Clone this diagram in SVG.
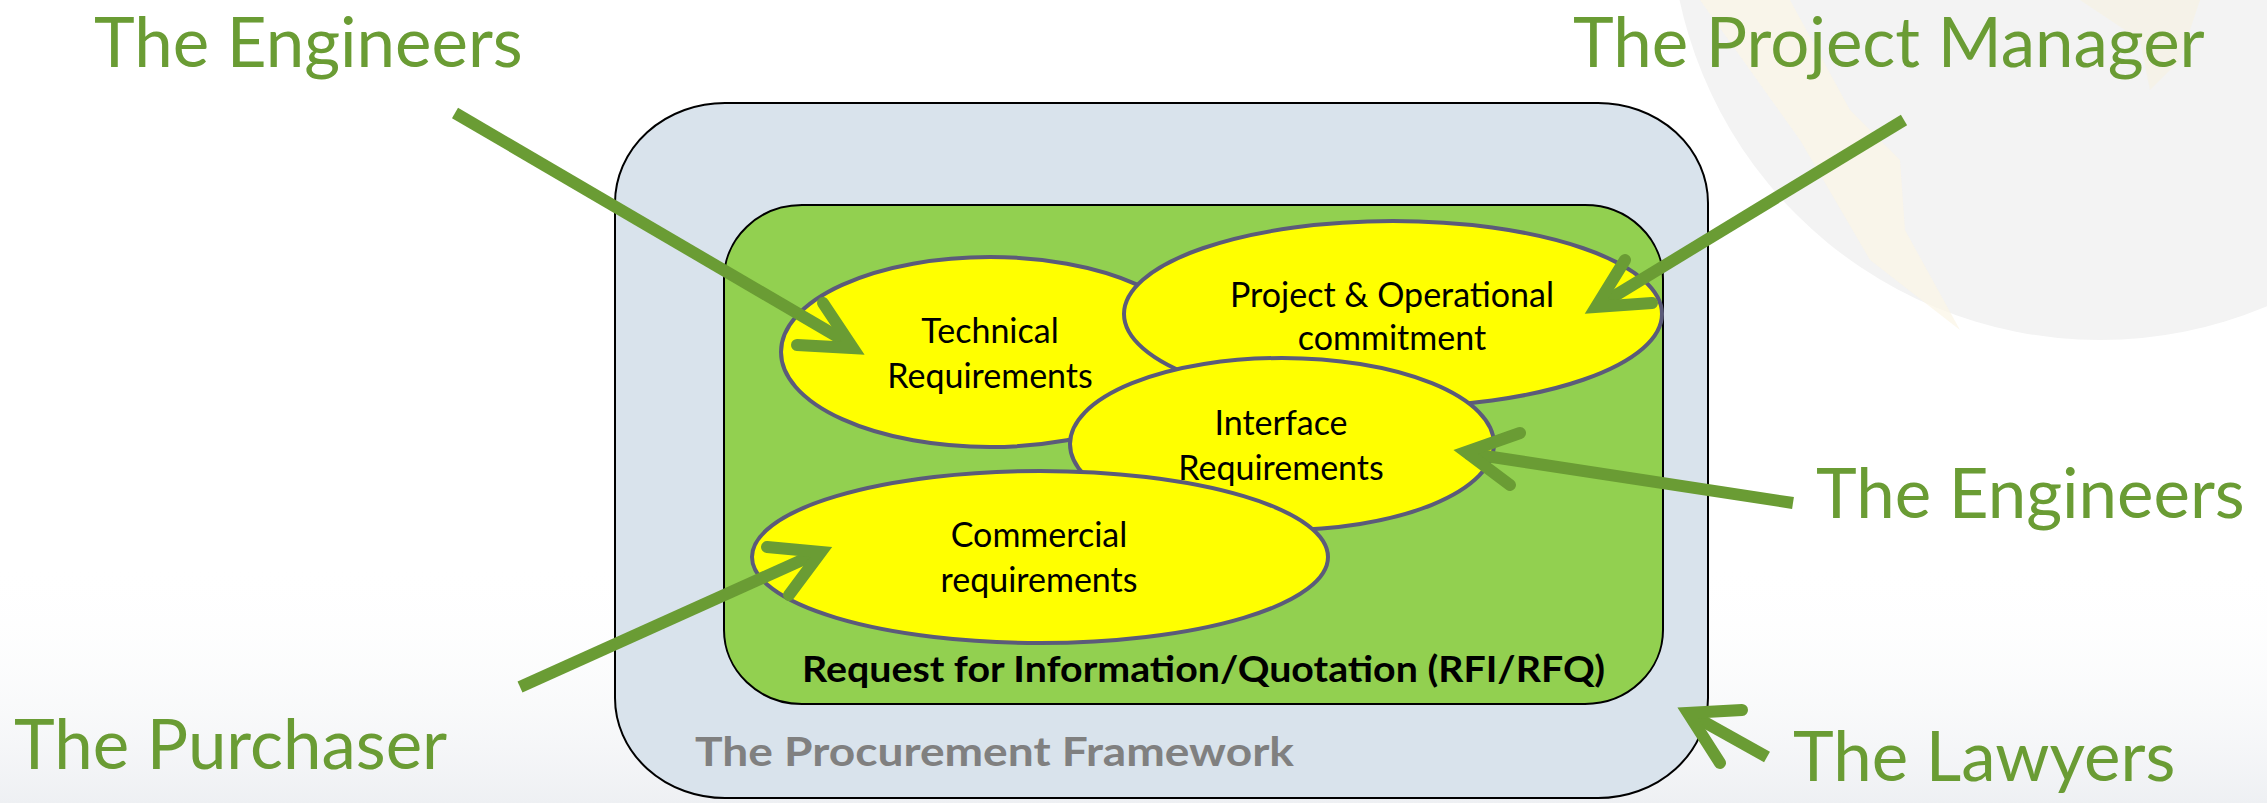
<svg xmlns="http://www.w3.org/2000/svg" width="2267" height="803" viewBox="0 0 2267 803">
<defs>
<style>
.lbl{font-family:Lato,"Open Sans","Liberation Sans",sans-serif;fill:#6a9c34;font-size:69px;}
.et{font-family:Lato,"Liberation Sans",sans-serif;fill:#000;font-size:34px;text-anchor:middle;}
.ell{fill:#ffff00;stroke:#5b5b7a;stroke-width:4;}
.arr{fill:none;stroke:#6a9c34;stroke-width:12;stroke-linecap:butt;}
.head{fill:none;stroke:#6a9c34;stroke-width:12;stroke-linecap:round;stroke-linejoin:miter;}
</style>
<linearGradient id="bg" x1="0" y1="0" x2="0" y2="1">
<stop offset="0" stop-color="#ffffff" stop-opacity="0"/>
<stop offset="1" stop-color="#eef0f3"/>
</linearGradient>
</defs>
<rect width="2267" height="803" fill="#ffffff"/>
<g id="background">
<circle cx="2100" cy="-90" r="430" fill="#f3f3f3"/>
<path d="M1700 0 L1790 0 L1850 110 L1900 160 L1905 230 L1960 330 L1870 260 L1800 140 Z" fill="#fbf5e6" opacity="0.7"/>
<path d="M2080 0 L2200 0 L2180 60 L2150 90 L2140 40 Z" fill="#f8f1de" opacity="0.5"/>
<rect x="0" y="560" width="2267" height="243" fill="url(#bg)"/>
</g>
<g id="framework">
<rect x="615" y="103" width="1093" height="695" rx="110" ry="100" fill="#d9e3ec" stroke="#000" stroke-width="2"/>
<text x="695" y="766" font-family="Lato,'Liberation Sans',sans-serif" font-weight="bold" font-size="40" fill="#808080" textLength="599" lengthAdjust="spacingAndGlyphs">The Procurement Framework</text>
</g>
<g id="rfq">
<rect x="724" y="205" width="939" height="499" rx="78" ry="74" fill="#92d050" stroke="#000" stroke-width="2"/>
<text x="802" y="682" font-family="Lato,'Liberation Sans',sans-serif" font-weight="bold" font-size="36" fill="#000" textLength="803" lengthAdjust="spacingAndGlyphs">Request for Information/Quotation (RFI/RFQ)</text>
</g>
<g id="technical">
<ellipse class="ell" cx="990" cy="352" rx="209" ry="95"/>
<text class="et" x="990" y="343">Technical</text>
<text class="et" x="990" y="388">Requirements</text>
</g>
<g id="project">
<ellipse class="ell" cx="1393" cy="314" rx="269" ry="93"/>
<text class="et" x="1392" y="307">Project &amp; Operational</text>
<text class="et" x="1392" y="350">commitment</text>
</g>
<g id="interface">
<ellipse class="ell" cx="1282" cy="444" rx="212" ry="86"/>
<text class="et" x="1281" y="435">Interface</text>
<text class="et" x="1281" y="480">Requirements</text>
</g>
<g id="commercial">
<ellipse class="ell" cx="1040" cy="557" rx="288" ry="86"/>
<text class="et" x="1039" y="547">Commercial</text>
<text class="et" x="1039" y="592">requirements</text>
</g>
<g id="actors">
<text class="lbl" x="94" y="67">The Engineers</text>
<text class="lbl" x="1573" y="67">The Project Manager</text>
<text class="lbl" x="1816" y="518">The Engineers</text>
<text class="lbl" x="14" y="769">The Purchaser</text>
<text class="lbl" x="1793" y="781">The Lawyers</text>
</g>
<g id="connectors">
<line class="arr" x1="455" y1="113" x2="850" y2="344"/>
<polyline class="head" points="823,303 853,348 797,345"/>
<line class="arr" x1="1904" y1="120" x2="1598" y2="306"/>
<polyline class="head" points="1625,260 1596,307 1652,303"/>
<line class="arr" x1="1793" y1="503" x2="1466" y2="453"/>
<polyline class="head" points="1520,433 1466,452 1510,485"/>
<line class="arr" x1="520" y1="687" x2="820" y2="552"/>
<polyline class="head" points="767,547 821,552 789,595"/>
<line class="arr" x1="1767" y1="757" x2="1690" y2="714"/>
<polyline class="head" points="1742,710 1688,713 1720,763"/>
</g>
</svg>
